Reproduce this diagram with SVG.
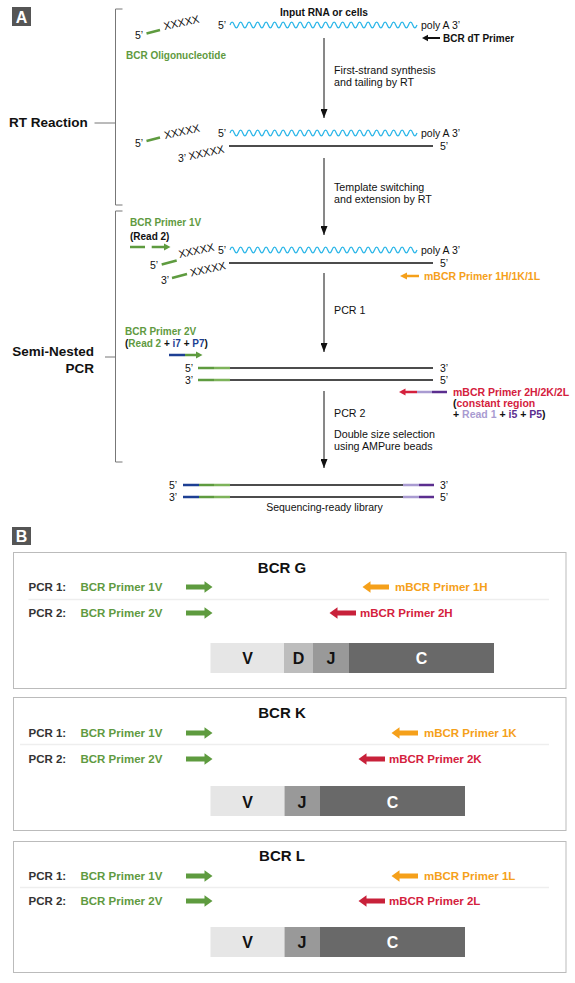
<svg xmlns="http://www.w3.org/2000/svg" width="575" height="983" viewBox="0 0 575 983">
<style>
text{font-family:"Liberation Sans",Arial,Helvetica,sans-serif;fill:#111;}
.b{font-weight:bold;}
.lbl{font-size:10.5px;}
.step{font-size:10.7px;}
.xx{font-size:10.8px;}
.big{font-size:13.5px;font-weight:bold;}
.sm{font-size:10px;font-weight:bold;}
.g{fill:#5f9a41;}
.o{fill:#f5a01a;}
.r{fill:#d4213d;}
.bl{fill:#1d3f93;}
.lp{fill:#a99bd1;}
.dp{fill:#5b2e8f;}
.strand{stroke:#111;stroke-width:1.3;fill:none;}
.wave{stroke:#2bb6e8;stroke-width:1.3;fill:none;}
.gl{stroke:#5e9b3f;stroke-width:2.5;}
.pcr{font-size:11.5px;font-weight:bold;fill:#333;}
.pb{font-size:11.5px;font-weight:bold;}
.title{font-size:15px;font-weight:bold;}
.seg{font-size:16px;font-weight:bold;}
.box{fill:none;stroke:#bbb;stroke-width:1;}
.sep{stroke:#eee;stroke-width:1.5;}
.conn{stroke:#111;stroke-width:1;fill:none;}
</style>
<defs>
<path id="wave" d="M0,0 q2.125,-5.6 4.25,0 t4.25,0 t4.25,0 t4.25,0 t4.25,0 t4.25,0 t4.25,0 t4.25,0 t4.25,0 t4.25,0 t4.25,0 t4.25,0 t4.25,0 t4.25,0 t4.25,0 t4.25,0 t4.25,0 t4.25,0 t4.25,0 t4.25,0 t4.25,0 t4.25,0 t4.25,0 t4.25,0 t4.25,0 t4.25,0 t4.25,0 t4.25,0 t4.25,0 t4.25,0 t4.25,0 t4.25,0 t4.25,0 t4.25,0 t4.25,0 t4.25,0 t4.25,0 t4.25,0 t4.25,0 t4.25,0 t4.25,0 t4.25,0 t4.25,0 t4.25,0"/>
<path id="fat" d="M0,-2.6 H18.5 V-5.8 L26.5,0 L18.5,5.8 V2.6 H0 Z"/>
<marker id="ah" viewBox="0 0 9 7" refX="9" refY="3.5" markerWidth="9" markerHeight="7" markerUnits="userSpaceOnUse" orient="auto">
<path d="M0,0 L9,3.5 L0,7 Z" fill="#111"/>
</marker>
</defs>
<rect width="575" height="983" fill="#fff"/>

<!-- Panel A -->
<g id="label-A">
<rect x="12" y="7" width="19" height="19" fill="#555"/>
<text x="21.5" y="22.5" text-anchor="middle" class="b" font-size="16" style="fill:#fff">A</text>
</g>

<g id="brackets" stroke="#777" stroke-width="1" fill="none">
<path d="M122.5,9 H115.5 V205 H122.5 M94.5,123 H115.5"/>
<path d="M122.5,211 H115.5 V462 H122.5 M105,357 H115.5"/>
</g>
<g id="stage-labels">
<text x="9" y="127" class="big">RT Reaction</text>
<text x="94" y="356" class="big" text-anchor="end">Semi-Nested</text>
<text x="94" y="373" class="big" text-anchor="end">PCR</text>
</g>

<g id="step1-input">
<text x="324" y="16" text-anchor="middle" class="b" font-size="10.2">Input RNA or cells</text>
<text x="135" y="39" class="lbl">5’</text>
<line x1="146.5" y1="33.5" x2="160" y2="30" class="gl"/>
<text class="xx" transform="translate(164.5,30) rotate(-12)">XXXXX</text>
<text x="126" y="59" class="sm g">BCR Oligonucleotide</text>
<text x="218" y="29" class="lbl">5’</text>
<use href="#wave" x="230" y="25" class="wave"/>
<text x="421" y="29" class="lbl">poly A 3’</text>
<line x1="427" y1="38" x2="440" y2="38" stroke="#111" stroke-width="2"/>
<polygon points="422,38 428,34.8 428,41.2" fill="#111"/>
<text x="443" y="42" class="sm">BCR dT Primer</text>
</g>

<g id="step2-first-strand">
<text x="135" y="147" class="lbl">5’</text>
<line x1="146.5" y1="141" x2="160" y2="137.5" class="gl"/>
<text class="xx" transform="translate(165,139) rotate(-12)">XXXXX</text>
<text x="218" y="137" class="lbl">5’</text>
<use href="#wave" x="230" y="133" class="wave"/>
<text x="421" y="137" class="lbl">poly A 3’</text>
<text x="178" y="162" class="lbl">3’</text>
<text class="xx" transform="translate(189.5,160) rotate(-12)">XXXXX</text>
<line x1="229" y1="146" x2="433" y2="146" class="strand"/>
<text x="440" y="150" class="lbl">5’</text>
</g>

<g id="step3-template-switch">
<text x="130" y="226" class="sm g">BCR Primer 1V</text>
<text x="130" y="240" class="sm">(Read 2)</text>
<line x1="130" y1="247" x2="145" y2="247" class="gl"/>
<line x1="151.7" y1="247" x2="165" y2="247" class="gl"/>
<polygon points="164,243.5 170.5,247 164,250.5" fill="#5e9b3f"/>
<text x="150" y="269" class="lbl">5’</text>
<line x1="161.7" y1="264.5" x2="176.7" y2="260.5" class="gl"/>
<text class="xx" transform="translate(179.5,258) rotate(-12)">XXXXX</text>
<text x="218" y="254" class="lbl">5’</text>
<use href="#wave" x="230" y="250" class="wave"/>
<text x="421" y="254" class="lbl">poly A 3’</text>
<text x="161" y="284" class="lbl">3’</text>
<line x1="172" y1="278" x2="187" y2="274" class="gl"/>
<text class="xx" transform="translate(191,276.5) rotate(-12)">XXXXX</text>
<line x1="229" y1="263" x2="433" y2="263" class="strand"/>
<text x="440" y="267" class="lbl">5’</text>
<line x1="406" y1="276" x2="419" y2="276" stroke="#f5a01a" stroke-width="2.5"/>
<polygon points="400,276 407,272.5 407,279.5" fill="#f5a01a"/>
<text x="424" y="280" class="lbl b o">mBCR Primer 1H/1K/1L</text>
</g>

<g id="step4-pcr1-product">
<text x="125" y="335" class="sm g">BCR Primer 2V</text>
<text x="125" y="347" class="sm">(<tspan class="g">Read 2</tspan> + <tspan class="bl">i7</tspan> + <tspan class="bl">P7</tspan>)</text>
<line x1="169" y1="355" x2="185" y2="355" stroke="#1d3f93" stroke-width="2.5"/>
<line x1="185" y1="355" x2="197" y2="355" class="gl"/>
<polygon points="196,351.5 202.5,355 196,358.5" fill="#5e9b3f"/>
<text x="185" y="372" class="lbl">5’</text>
<line x1="198" y1="368" x2="214" y2="368" stroke="#5e9b3f" stroke-width="2.5"/>
<line x1="214" y1="368" x2="230" y2="368" stroke="#7db35a" stroke-width="2.5"/>
<line x1="230" y1="368" x2="433" y2="368" class="strand" stroke="#333"/>
<text x="440" y="372" class="lbl">3’</text>
<text x="185" y="384" class="lbl">3’</text>
<line x1="198" y1="380" x2="214" y2="380" stroke="#5e9b3f" stroke-width="2.5"/>
<line x1="214" y1="380" x2="230" y2="380" stroke="#7db35a" stroke-width="2.5"/>
<line x1="230" y1="380" x2="433" y2="380" class="strand"/>
<text x="440" y="384" class="lbl">5’</text>
<polygon points="399,392 405.5,388.5 405.5,395.5" fill="#d4213d"/>
<line x1="405" y1="392" x2="417" y2="392" stroke="#d4213d" stroke-width="2.5"/>
<line x1="417" y1="392" x2="432" y2="392" stroke="#a99bd1" stroke-width="2.5"/>
<line x1="432" y1="392" x2="447" y2="392" stroke="#5b2e8f" stroke-width="2.5"/>
<text x="453" y="396" class="lbl b r">mBCR Primer 2H/2K/2L</text>
<text x="453" y="407" class="lbl b">(<tspan class="r">constant region</tspan></text>
<text x="453" y="418" class="lbl b">+ <tspan class="lp">Read 1</tspan> + <tspan class="dp">i5</tspan> + <tspan class="dp">P5</tspan>)</text>
</g>

<g id="step5-library">
<text x="169" y="489" class="lbl">5’</text>
<line x1="183" y1="485" x2="199" y2="485" stroke="#1d3f93" stroke-width="2.5"/>
<line x1="199" y1="485" x2="214" y2="485" stroke="#5e9b3f" stroke-width="2.5"/>
<line x1="214" y1="485" x2="230" y2="485" stroke="#7db35a" stroke-width="2.5"/>
<line x1="230" y1="485" x2="403" y2="485" class="strand"/>
<line x1="403" y1="485" x2="419" y2="485" stroke="#a99bd1" stroke-width="2.5"/>
<line x1="419" y1="485" x2="434" y2="485" stroke="#5b2e8f" stroke-width="2.5"/>
<text x="440" y="489" class="lbl">3’</text>
<text x="169" y="501" class="lbl">3’</text>
<line x1="183" y1="497" x2="199" y2="497" stroke="#1d3f93" stroke-width="2.5"/>
<line x1="199" y1="497" x2="214" y2="497" stroke="#5e9b3f" stroke-width="2.5"/>
<line x1="214" y1="497" x2="230" y2="497" stroke="#7db35a" stroke-width="2.5"/>
<line x1="230" y1="497" x2="403" y2="497" class="strand"/>
<line x1="403" y1="497" x2="419" y2="497" stroke="#a99bd1" stroke-width="2.5"/>
<line x1="419" y1="497" x2="434" y2="497" stroke="#5b2e8f" stroke-width="2.5"/>
<text x="440" y="501" class="lbl">5’</text>
<text x="324.5" y="511" text-anchor="middle" class="lbl">Sequencing-ready library</text>
</g>

<g id="connectors">
<line x1="324" y1="38" x2="324" y2="118" class="conn" marker-end="url(#ah)"/>
<text x="334" y="74" class="step">First-strand synthesis</text>
<text x="334" y="86" class="step">and tailing by RT</text>
<line x1="324" y1="158" x2="324" y2="235" class="conn" marker-end="url(#ah)"/>
<text x="334" y="191" class="step">Template switching</text>
<text x="334" y="203" class="step">and extension by RT</text>
<line x1="324" y1="273" x2="324" y2="352" class="conn" marker-end="url(#ah)"/>
<text x="334" y="314" class="step">PCR 1</text>
<line x1="324" y1="391" x2="324" y2="468" class="conn" marker-end="url(#ah)"/>
<text x="334" y="417" class="step">PCR 2</text>
<text x="334" y="438" class="step">Double size selection</text>
<text x="334" y="450" class="step">using AMPure beads</text>
</g>

<!-- Panel B -->
<g id="label-B">
<rect x="12" y="527" width="19" height="18" fill="#555"/>
<text x="21.5" y="541.5" text-anchor="middle" class="b" font-size="16" style="fill:#fff">B</text>
</g>

<g id="bcr-g">
<rect x="13.5" y="552.5" width="552.5" height="136" class="box"/>
<text x="282" y="573" text-anchor="middle" class="title">BCR G</text>
<text x="28.5" y="591" class="pcr">PCR 1:</text>
<text x="80.5" y="591" class="pb g">BCR Primer 1V</text>
<use href="#fat" transform="translate(186,587)" fill="#5e9b3f"/>
<use href="#fat" transform="translate(389,587) scale(-1,1)" fill="#f5a01a"/>
<text x="395" y="591" class="pb o">mBCR Primer 1H</text>
<line x1="28.5" y1="599.5" x2="549" y2="599.5" class="sep"/>
<text x="28.5" y="617" class="pcr">PCR 2:</text>
<text x="80.5" y="617" class="pb g">BCR Primer 2V</text>
<use href="#fat" transform="translate(186,613)" fill="#5e9b3f"/>
<use href="#fat" transform="translate(356,613) scale(-1,1)" fill="#c8213a"/>
<text x="360" y="617" class="pb r">mBCR Primer 2H</text>
<rect x="210.5" y="643" width="73.5" height="30" fill="#e6e6e6"/>
<rect x="284" y="643" width="29" height="30" fill="#bdbdbd"/>
<rect x="313" y="643" width="36" height="30" fill="#999"/>
<rect x="349" y="643" width="145" height="30" fill="#696969"/>
<text x="247.5" y="664" text-anchor="middle" class="seg">V</text>
<text x="298.5" y="664" text-anchor="middle" class="seg">D</text>
<text x="331" y="664" text-anchor="middle" class="seg">J</text>
<text x="421.5" y="664" text-anchor="middle" class="seg" style="fill:#fff">C</text>
</g>

<g id="bcr-k">
<rect x="13.5" y="697.5" width="552.5" height="133" class="box"/>
<text x="282" y="718" text-anchor="middle" class="title">BCR K</text>
<text x="28.5" y="737" class="pcr">PCR 1:</text>
<text x="80.5" y="737" class="pb g">BCR Primer 1V</text>
<use href="#fat" transform="translate(186,733)" fill="#5e9b3f"/>
<use href="#fat" transform="translate(418,733) scale(-1,1)" fill="#f5a01a"/>
<text x="424" y="737" class="pb o">mBCR Primer 1K</text>
<line x1="20" y1="744.5" x2="549" y2="744.5" class="sep"/>
<text x="28.5" y="763" class="pcr">PCR 2:</text>
<text x="80.5" y="763" class="pb g">BCR Primer 2V</text>
<use href="#fat" transform="translate(186,759)" fill="#5e9b3f"/>
<use href="#fat" transform="translate(385,759) scale(-1,1)" fill="#c8213a"/>
<text x="389" y="763" class="pb r">mBCR Primer 2K</text>
<rect x="210.5" y="786" width="74" height="30" fill="#e6e6e6"/>
<rect x="284.5" y="786" width="35.5" height="30" fill="#999"/>
<rect x="320" y="786" width="145" height="30" fill="#696969"/>
<text x="247.5" y="808" text-anchor="middle" class="seg">V</text>
<text x="302" y="808" text-anchor="middle" class="seg">J</text>
<text x="392.5" y="808" text-anchor="middle" class="seg" style="fill:#fff">C</text>
</g>

<g id="bcr-l">
<rect x="13.5" y="841.5" width="552.5" height="131" class="box"/>
<text x="282" y="861" text-anchor="middle" class="title">BCR L</text>
<text x="28.5" y="880" class="pcr">PCR 1:</text>
<text x="80.5" y="880" class="pb g">BCR Primer 1V</text>
<use href="#fat" transform="translate(186,876)" fill="#5e9b3f"/>
<use href="#fat" transform="translate(418,876) scale(-1,1)" fill="#f5a01a"/>
<text x="424" y="880" class="pb o">mBCR Primer 1L</text>
<line x1="20" y1="887.5" x2="549" y2="887.5" class="sep"/>
<text x="28.5" y="905" class="pcr">PCR 2:</text>
<text x="80.5" y="905" class="pb g">BCR Primer 2V</text>
<use href="#fat" transform="translate(186,901)" fill="#5e9b3f"/>
<use href="#fat" transform="translate(385,901) scale(-1,1)" fill="#c8213a"/>
<text x="389" y="905" class="pb r">mBCR Primer 2L</text>
<rect x="210.5" y="927" width="74" height="30" fill="#e6e6e6"/>
<rect x="284.5" y="927" width="35.5" height="30" fill="#999"/>
<rect x="320" y="927" width="145" height="30" fill="#696969"/>
<text x="247.5" y="948" text-anchor="middle" class="seg">V</text>
<text x="302" y="948" text-anchor="middle" class="seg">J</text>
<text x="392.5" y="948" text-anchor="middle" class="seg" style="fill:#fff">C</text>
</g>
</svg>
